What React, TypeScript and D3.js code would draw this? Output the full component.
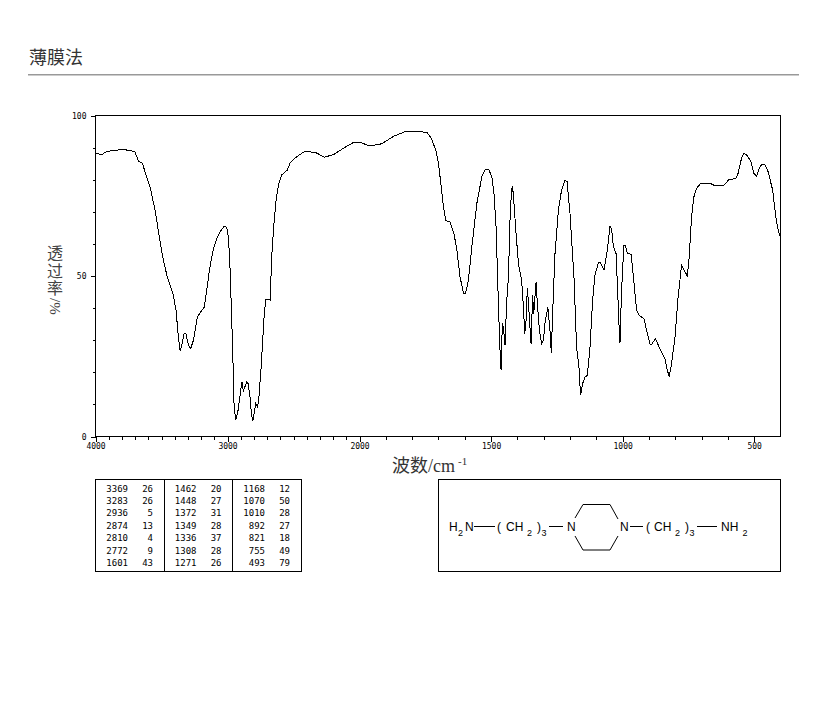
import React, { useRef, useLayoutEffect } from 'react'
import { select, scaleLinear, axisBottom, axisLeft, line, range } from 'd3'

const wavenumbers = [
  4000, 3952, 3915, 3865, 3789, 3726, 3700, 3675, 3645, 3625, 3587, 3549, 3511, 3486, 3456, 3410, 3390, 3372, 3359, 3344,
  3329, 3314, 3296, 3279, 3258, 3228, 3208, 3177, 3157, 3137, 3112, 3081, 3048, 3026, 3006, 2993, 2980, 2968, 2960, 2950,
  2937, 2922, 2910, 2900, 2890, 2880, 2854, 2844, 2829, 2819, 2809, 2799, 2786, 2771, 2761, 2746, 2733, 2723, 2710, 2677,
  2665, 2652, 2632, 2614, 2589, 2546, 2526, 2475, 2412, 2361, 2324, 2268, 2197, 2121, 2046, 2000, 1960, 1915, 1871, 1823,
  1744, 1725, 1709, 1700, 1694, 1681, 1672, 1656, 1640, 1630, 1618, 1605, 1597, 1586, 1573, 1554, 1535, 1523, 1510, 1497,
  1489, 1481, 1471, 1466, 1462, 1461, 1456, 1451, 1447, 1441, 1434, 1428, 1422, 1418, 1413, 1405, 1396, 1384, 1377, 1372,
  1367, 1362, 1357, 1348, 1342, 1338, 1334, 1329, 1324, 1316, 1308, 1301, 1294, 1284, 1276, 1271, 1266, 1257, 1244, 1232,
  1219, 1211, 1200, 1185, 1175, 1166, 1160, 1152, 1143, 1134, 1124, 1114, 1105, 1092, 1086, 1071, 1058, 1048, 1042, 1035,
  1025, 1019, 1014, 1010, 1006, 1001, 995, 990, 982, 968, 959, 947, 938, 919, 909, 896, 890, 875, 856, 839,
  830, 823, 814, 801, 789, 776, 766, 754, 747, 738, 729, 719, 703, 668, 649, 618, 596, 570, 561, 548,
  539, 529, 514, 501, 491, 481, 471, 460, 447, 430, 418, 409, 403, 400
]
const transmittance = [
  88.3, 87.8, 88.8, 89.1, 89.4, 89, 88.6, 85.8, 85.1, 82.5, 77.8, 70.6, 60.7, 54.9, 49.7, 44, 39.3, 31, 26.7, 28.9,
  32.1, 31.9, 28.4, 27.4, 30, 37.3, 38.5, 40.2, 45.6, 51.8, 57.6, 61.7, 64.3, 65.4, 65.2, 62.2, 51.8, 36.2, 25.8, 9.2,
  5.2, 7.6, 11.2, 14.4, 17, 14.2, 17, 16.5, 12.3, 7.1, 4.7, 7.1, 10.2, 9.2, 12.8, 21.1, 30, 37.3, 42.7, 42.5,
  56, 64.3, 73.7, 78.4, 81.5, 83, 85.3, 87.2, 88.9, 88.6, 88.3, 87, 87.8, 89.8, 91.6, 91.7, 90.5, 91.2, 93.5, 95.1,
  94.8, 92.6, 88.8, 85.1, 81, 71.6, 67.2, 66.9, 62.8, 58.1, 49.8, 44.6, 44.6, 48.7, 59.1, 72.6, 81, 83.1, 83.3, 81,
  75.8, 65.4, 38.3, 26.9, 20.8, 27.4, 35.2, 32, 28.4, 41.4, 49.8, 67.4, 77.3, 77.8, 72.6, 63.3, 53.9, 48.7, 40.4, 32,
  36.2, 46.4, 40.4, 28.9, 44, 38.3, 42.5, 48, 41.4, 33, 28.9, 30, 36.2, 40.2, 33, 26, 38.3, 57, 70.6, 76.8,
  79.9, 79.4, 69.5, 49.8, 27.9, 21.7, 12.8, 16.5, 18.5, 19, 27.9, 42.5, 50.3, 54.1, 54.4, 51.8, 58.1, 65.4, 64.8, 59.1,
  57, 45.6, 35.2, 29.2, 40.4, 50.8, 59.6, 59.6, 57, 56.8, 49.8, 39.3, 37.8, 36.7, 33.1, 28.7, 28.7, 30.5, 26.8, 24.3,
  20.6, 18.7, 22.7, 31, 43.5, 53.4, 51.8, 50, 56, 68.5, 74.7, 77.3, 78.9, 78.9, 78.1, 78.1, 80, 80.4, 82, 86.7,
  88.2, 87.7, 86, 82, 81, 83.6, 84.8, 84.8, 82.5, 76.8, 68.5, 64.3, 62.7, 62.5
]

const xMajor = [4000, 3000, 2000, 1500, 1000, 500]
const yMajor = [0, 50, 100]

const peakColumns = [
  [[3369, 26], [3283, 26], [2936, 5], [2874, 13], [2810, 4], [2772, 9], [1601, 43]],
  [[1462, 20], [1448, 27], [1372, 31], [1349, 28], [1336, 37], [1308, 28], [1271, 26]],
  [[1168, 12], [1070, 50], [1010, 28], [892, 27], [821, 18], [755, 49], [493, 79]]
]

const monoFont = '"DejaVu Sans Mono", monospace'
const cjkFont = '"Noto Sans CJK SC", sans-serif'

const left = 95.5, right = 780.5, top = 115.5, bottom = 436.5

function drawChart (svgEl: SVGSVGElement) {
  const svg = select(svgEl)
  svg.selectAll('g.chart').remove()
  const g = svg.append('g').attr('class', 'chart').attr('shape-rendering', 'crispEdges')

  // the wavenumber axis doubles its scale below 2000
  const x = scaleLinear().domain([4000, 2000, 400]).range([left, 359.5, right])
  const y = scaleLinear().domain([0, 100]).range([bottom, top])

  const xAxis = axisBottom(x).tickValues(xMajor).tickSize(5).tickPadding(2).tickFormat((d: any) => String(d))
  const xMinor = axisBottom(x).tickValues(range(500, 4000, 100)).tickSize(3).tickFormat(() => '')
  const yAxis = axisLeft(y).tickValues(yMajor).tickSize(5).tickPadding(4).tickFormat((d: any) => String(d))
  const yMinor = axisLeft(y).tickValues(range(0, 100, 10)).tickSize(3).tickFormat(() => '')

  const gx = g.append('g').attr('transform', `translate(0,${bottom})`)
  gx.append('g').call(xMinor)
  gx.append('g').call(xAxis)
  const gy = g.append('g').attr('transform', `translate(${left},0)`)
  gy.append('g').call(yMinor)
  gy.append('g').call(yAxis)
  g.selectAll('.domain').remove()
  g.selectAll('.tick line').attr('stroke', '#000')
  g.selectAll('.tick text').attr('font-family', monoFont).attr('font-size', 8).attr('fill', '#000')

  g.append('rect')
    .attr('x', left).attr('y', top)
    .attr('width', right - left).attr('height', bottom - top)
    .attr('fill', 'none').attr('stroke', '#000')

  const trace = line<number>()
    .x((d) => x(d))
    .y((_, i) => y(transmittance[i]))
  g.append('path')
    .attr('d', trace(wavenumbers))
    .attr('fill', 'none').attr('stroke', '#000').attr('stroke-width', 1)
}

const Sub = ({ x, y, children }: any) => (
  <text x={x} y={y} fontFamily="Liberation Sans" fontSize={9}>{children}</text>
)

const Molecule = () => (
  <g>
    <g fontFamily="Liberation Sans" fontSize={12} fill="#000">
      <text x={449} y={531}>H</text>
      <text x={465} y={531}>N</text>
      <text x={497} y={531}>(</text>
      <text x={506} y={531}>CH</text>
      <text x={537} y={531}>)</text>
      <text x={567} y={531}>N</text>
      <text x={620} y={531}>N</text>
      <text x={646} y={531}>(</text>
      <text x={654} y={531}>CH</text>
      <text x={685} y={531}>)</text>
      <text x={721} y={531}>NH</text>
    </g>
    <Sub x={458} y={536}>2</Sub>
    <Sub x={527} y={536}>2</Sub>
    <Sub x={541.5} y={536}>3</Sub>
    <Sub x={675} y={536}>2</Sub>
    <Sub x={689.5} y={536}>3</Sub>
    <Sub x={742.5} y={536}>2</Sub>
    <g stroke="#000" fill="none">
      <path d="M474 526.5H495M549 526.5H563M630 526.5H643M697 526.5H717" shapeRendering="crispEdges" />
      <path d="M575 518L583 504.5H610L618 519M575 536L583 550H610L618 536" />
    </g>
  </g>
)

const PeakTable = () => (
  <g>
    <g fill="none" stroke="#000" shapeRendering="crispEdges">
      <rect x={95.5} y={479.5} width={206} height={92} />
      <path d="M164.5 479.5V571.5M232.5 479.5V571.5" />
    </g>
    <g fontFamily={monoFont} fontSize={9} fill="#000" textAnchor="end">
      {peakColumns.map((col, c) => col.map((row, r) => (
        <g key={`${c}-${r}`}>
          <text x={128 + c * 68.5} y={491.5 + r * 12.4}>{row[0]}</text>
          <text x={153 + c * 68.5} y={491.5 + r * 12.4}>{row[1]}</text>
        </g>
      )))}
    </g>
  </g>
)

export default function App () {
  const ref = useRef<SVGSVGElement>(null)

  useLayoutEffect(() => {
    if (ref.current === null) return
    drawChart(ref.current)
  }, [])

  return (
    <svg ref={ref} width={822} height={709} style={{ position: 'absolute', left: 0, top: 0, background: '#fff' }}>
      <text x={29} y={64} fontFamily={cjkFont} fontSize={18} fill="#333">薄膜法</text>
      <rect x={28} y={74} width={771} height={1.5} fill="#999" />

      <text x={55} y={245} fontFamily={cjkFont} fontSize={16} letterSpacing={1.5} fill="#444"
        style={{ writingMode: 'vertical-rl' }}>透过率</text>
      <text transform="translate(50,298) rotate(90)" fontFamily="Liberation Serif" fontSize={15} fill="#444">/%</text>

      <text x={392} y={472} fontFamily={cjkFont} fontSize={18} fill="#333">波数</text>
      <text x={428} y={472} fontFamily="Liberation Serif" fontSize={18} fill="#333">/cm</text>
      <text x={458} y={465} fontFamily="Liberation Serif" fontSize={11} fill="#333">-1</text>

      <PeakTable />
      <rect x={438.5} y={479.5} width={342} height={92} fill="none" stroke="#000" shapeRendering="crispEdges" />
      <Molecule />
    </svg>
  )
}
